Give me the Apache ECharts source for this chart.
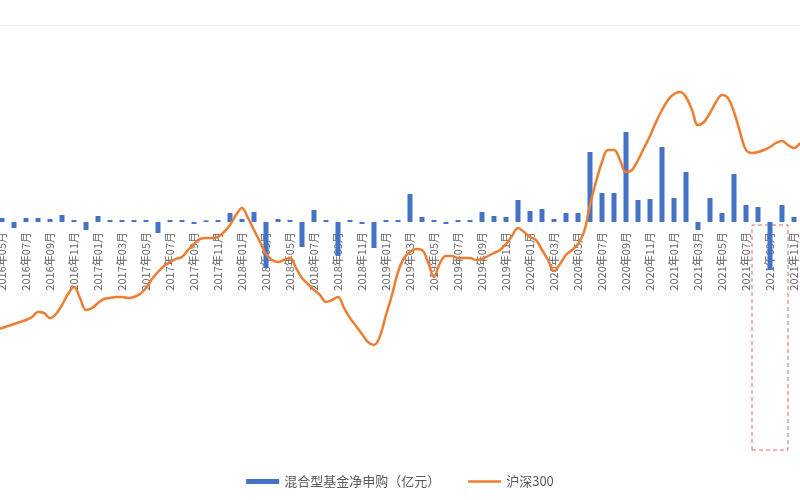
<!DOCTYPE html>
<html>
<head>
<meta charset="utf-8">
<script src="https://cdn.jsdelivr.net/npm/echarts@6/dist/echarts.min.js"></script>
<style>
html,body{margin:0;padding:0;background:#fff;}
#chart{width:800px;height:500px;}
</style>
</head>
<body>
<div id="chart"></div>
<script>
// Months 2016-05 .. 2021-11
const months = [
 '2016年05月','2016年06月','2016年07月','2016年08月','2016年09月','2016年10月','2016年11月','2016年12月',
 '2017年01月','2017年02月','2017年03月','2017年04月','2017年05月','2017年06月','2017年07月','2017年08月','2017年09月','2017年10月','2017年11月','2017年12月',
 '2018年01月','2018年02月','2018年03月','2018年04月','2018年05月','2018年06月','2018年07月','2018年08月','2018年09月','2018年10月','2018年11月','2018年12月',
 '2019年01月','2019年02月','2019年03月','2019年04月','2019年05月','2019年06月','2019年07月','2019年08月','2019年09月','2019年10月','2019年11月','2019年12月',
 '2020年01月','2020年02月','2020年03月','2020年04月','2020年05月','2020年06月','2020年07月','2020年08月','2020年09月','2020年10月','2020年11月','2020年12月',
 '2021年01月','2021年02月','2021年03月','2021年04月','2021年05月','2021年06月','2021年07月','2021年08月','2021年09月','2021年10月','2021年11月'
];

// 混合型基金净申购（亿元）, monthly
const netPurchase = [
 100,-150,100,100,75,175,50,-200,
 150,50,50,50,50,-275,50,50,-50,40,50,225,
 75,250,-1150,75,50,-625,300,50,-850,50,-50,-650,
 50,50,700,125,50,-50,50,50,250,150,125,550,
 275,325,75,225,225,1750,725,725,2250,550,575,1875,
 600,1250,-200,600,225,1200,425,375,-1200,425,125
];

// 沪深300, semi-monthly (start and middle of each month, 2016-05-01 .. 2021-12-01)
const csi300 = [
 3131,3142,3164,3186,3208,3230,3263,3318,3307,3252,3296,3395,3516,3593,3472,3340,3362,3417,3461,3472,
 3483,3483,3472,3483,3516,3582,3681,3758,3824,3868,3901,3923,4000,4066,4121,4132,4132,4143,4198,4275,
 4385,4462,4352,4220,4088,3956,3890,3868,3890,3912,3802,3692,3626,3560,3505,3428,3450,3483,3362,3252,
 3164,3076,2988,2955,3054,3285,3505,3758,3912,3978,4011,4000,3868,3703,3857,3934,3934,3912,3912,3912,
 3890,3901,3934,3967,4000,4066,4154,4242,4198,4143,4110,4000,3890,3769,3846,3945,4000,4066,4198,4495,
 4748,4968,5100,5100,4990,4858,4880,4990,5122,5254,5408,5540,5650,5716,5738,5683,5540,5375,5408,5507,
 5628,5705,5672,5518,5298,5100,5067,5078,5100,5133,5177,5199,5155,5122,5177
];

// date labels for the semi-monthly index axis
const halfMonths = [];
(function(){
  let y = 2016, m = 5;
  while (halfMonths.length < csi300.length) {
    const mm = (m < 10 ? '0' : '') + m;
    halfMonths.push(y + '-' + mm + '-01');
    if (halfMonths.length < csi300.length) halfMonths.push(y + '-' + mm + '-16');
    m++; if (m > 12) { m = 1; y++; }
  }
})();

const barName = '混合型基金净申购（亿元）';
const lineName = '沪深300';

const hiddenAxisParts = {
  axisLine: {show: false, onZero: false}, axisTick: {show: false},
  axisLabel: {show: false}, splitLine: {show: false}
};

const chart = echarts.init(document.getElementById('chart'), null, {renderer: 'canvas'});
chart.setOption({
  animation: false,
  backgroundColor: '#ffffff',
  textStyle: {fontFamily: '"Noto Sans CJK SC", "Noto Sans", sans-serif'},
  grid: {left: -4, right: 0, top: 25, bottom: 50, containLabel: false, outerBoundsMode: 'none'},
  legend: {
    top: 470, left: 'center', itemGap: 28, itemWidth: 33, itemHeight: 5,
    symbolKeepAspect: true,
    textStyle: {fontSize: 13, color: '#595959'},
    data: [
      {name: barName, icon: 'rect'},
      {name: lineName, icon: 'path://M0,0H33V2.5H0Z'}
    ]
  },
  xAxis: [
    {
      // category axis drawn at the zero level of the bar axis (offset up from the grid bottom)
      type: 'category', data: months, boundaryGap: true, position: 'bottom', offset: -228,
      axisLine: {show: false, onZero: false},
      axisTick: {show: false},
      axisLabel: {
        rotate: 90, margin: 10, fontSize: 11, color: '#666666',
        interval: function (i) { return i % 2 === 0; }
      },
      splitLine: {show: false}
    },
    {
      type: 'category', data: halfMonths, boundaryGap: false, position: 'top',
      axisLine: {show: true, onZero: false, lineStyle: {color: '#ececec', width: 1}},
      axisTick: {show: false}, axisLabel: {show: false}, splitLine: {show: false}
    }
  ],
  yAxis: [
    Object.assign({type: 'value', min: -5700, max: 4925}, hiddenAxisParts),
    Object.assign({type: 'value', min: 1800, max: 6475, position: 'right'}, hiddenAxisParts)
  ],
  series: [
    {
      name: barName, type: 'bar', xAxisIndex: 0, yAxisIndex: 0,
      data: netPurchase, barWidth: 5,
      itemStyle: {color: '#4472C4'},
      markArea: {
        silent: true,
        itemStyle: {color: 'rgba(0,0,0,0)', borderColor: '#e06666', borderType: [4, 3], borderWidth: 1},
        data: [[{xAxis: '2021年08月', yAxis: -75}, {xAxis: '2021年10月', yAxis: -5700}]]
      },
      z: 2
    },
    {
      name: lineName, type: 'line', xAxisIndex: 1, yAxisIndex: 1,
      data: csi300, smooth: 0.4, symbol: 'none',
      lineStyle: {color: '#ED7D31', width: 2.5},
      itemStyle: {color: '#ED7D31'},
      z: 3
    }
  ]
});
</script>
</body>
</html>
